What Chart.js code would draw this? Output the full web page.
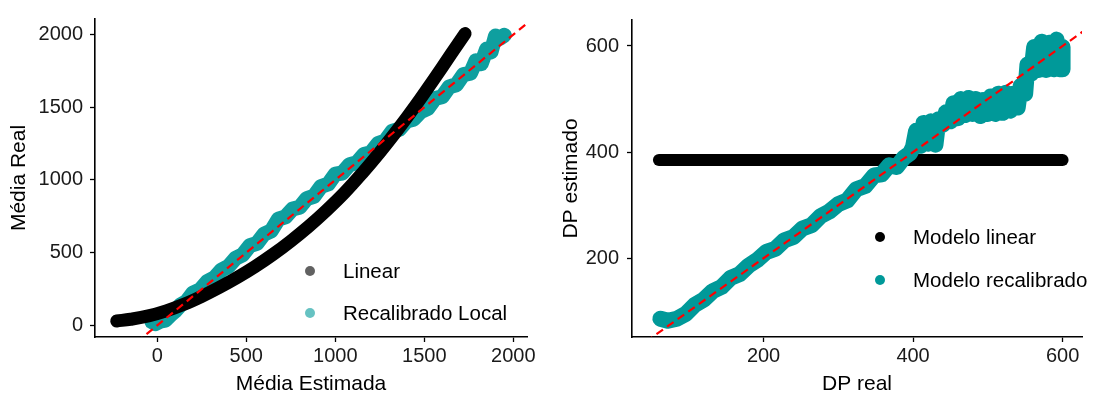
<!DOCTYPE html>
<html>
<head>
<meta charset="utf-8">
<script src="https://cdn.jsdelivr.net/npm/chart.js@4.4.1/dist/chart.umd.min.js"></script>
<style>
  body { margin: 0; background: #fff; overflow: hidden; }
  #wrap { position: relative; width: 1103px; height: 399px; font-family: "Liberation Sans", Arial, sans-serif; }
  #wrap canvas { position: absolute; top: 0; }
  #left { left: 0; }
  #right { left: 551px; }
  .dot { position: absolute; width: 10px; height: 10px; border-radius: 50%; }
  .lbl { position: absolute; font-size: 20.5px; line-height: 24px; color: #000; white-space: nowrap; }
</style>
</head>
<body>
<div id="wrap">
  <canvas id="left" width="551" height="399"></canvas>
  <canvas id="right" width="552" height="399"></canvas>
</div>
<script>
"use strict";

// Left panel: média real vs média estimada
const linearX = [-228, -150, -50, 50, 150, 250, 350, 450, 550, 650, 750, 850, 950, 1050, 1150, 1250, 1350, 1450, 1550, 1650, 1729];
const linearY = [30, 42, 65, 100, 145, 200, 262, 330, 405, 488, 580, 680, 790, 910, 1045, 1190, 1345, 1510, 1685, 1865, 2007];

const recalX = [-30, -10, 15, 45, 75, 100, 130, 165, 200, 240, 280, 320, 360, 400, 440, 480, 520, 560, 600, 640,
  680, 720, 760, 800, 840, 880, 920, 960, 1000, 1040, 1080, 1120, 1160, 1200, 1240, 1280, 1320, 1360, 1400, 1440,
  1480, 1520, 1560, 1600, 1640, 1680, 1720, 1760, 1790, 1820, 1850, 1875, 1900, 1925, 1950];
const recalY = [25, 12, 28, 36, 72, 98, 140, 165, 222, 244, 300, 326, 380, 406, 462, 486, 548, 564, 628, 650,
  730, 746, 800, 812, 872, 888, 955, 972, 1040, 1048, 1105, 1118, 1175, 1188, 1250, 1268, 1335, 1348, 1405, 1418,
  1470, 1492, 1560, 1572, 1640, 1655, 1725, 1735, 1820, 1800, 1900, 1880, 1990, 1975, 1995];

const mediaTicks = [0, 500, 1000, 1500, 2000];

// Right panel: DP estimado vs DP real
const dpLinearX = [60, 150, 250, 350, 450, 550, 600];
const dpLinearY = [385, 385, 385, 385, 385, 385, 385];

const dpRecalX = [62, 72, 84, 96, 108, 120, 132, 144, 156, 168, 180, 192, 204, 216, 228, 240, 252, 264, 276, 288,
  300, 312, 324, 336, 348, 358, 368, 378, 388, 396,
  400, 404, 410, 414, 420, 424, 430, 434, 440, 444, 450, 454, 460, 464, 470, 474, 480, 484, 490, 494,
  500, 504, 510, 514, 520, 524, 530, 534, 540, 544, 550, 553, 558, 562, 568, 572, 578, 582, 588, 592,
  596, 600, 600];
const dpRecalY = [86, 82, 86, 95, 112, 122, 138, 146, 163, 170, 186, 197, 212, 218, 234, 240, 256, 262, 279, 288,
  302, 309, 330, 336, 356, 358, 375, 372, 390, 398,
  410, 440, 412, 455, 416, 458, 414, 462, 452, 475, 458, 492, 464, 500, 470, 502, 472, 500, 468, 498,
  472, 505, 472, 510, 474, 512, 478, 510, 484, 525, 510, 565, 548, 598, 555, 608, 555, 606, 556, 612,
  556, 598, 556];

const dpTicks = [200, 400, 600];

// identity reference line (y = x)
const refLeft = [-400, 2300];
const refRight = [0, 700];

const TEAL = "rgb(0, 153, 153)";
const RED = "rgb(255, 0, 0)";

Chart.defaults.font.family = '"Liberation Sans", Arial, sans-serif';
Chart.defaults.color = "#000";

const toPoints = (xs, ys) => xs.map((x, i) => ({ x: x, y: ys[i] }));

function axis(min, max, ticks, title, size, titlePad, tickPad) {
  return {
    type: "linear",
    min: min,
    max: max,
    afterBuildTicks: (s) => { s.ticks = ticks.map(v => ({ value: v })); },
    afterFit: (s) => {
      if (s.isHorizontal()) { s.height = size; } else { s.width = size; }
    },
    grid: { display: true, drawOnChartArea: false, drawTicks: true, tickLength: 5, tickColor: "#000", tickWidth: 1.3 },
    border: { display: true, color: "#000", width: 1.6 },
    ticks: { color: "#1a1a1a", font: { size: 20 }, padding: tickPad, callback: (v) => String(v) },
    title: { display: true, text: title, color: "#000", font: { size: 21 }, padding: titlePad }
  };
}

function refLine(values) {
  return {
    label: "ref",
    data: toPoints(values, values),
    showLine: true,
    borderColor: RED,
    borderWidth: 2.2,
    borderDash: [8, 5],
    pointRadius: 0,
    order: 0
  };
}

function band(label, xs, ys, color, width, order, smooth) {
  return {
    label: label,
    data: toPoints(xs, ys),
    showLine: true,
    borderColor: color,
    backgroundColor: color,
    borderWidth: width,
    borderCapStyle: "round",
    borderJoinStyle: "round",
    pointRadius: 0,
    tension: smooth ? 0.4 : 0,
    order: order
  };
}

const baseOptions = {
  responsive: false,
  animation: false,
  devicePixelRatio: 1,
  plugins: { legend: { display: false }, tooltip: { enabled: false } }
};

// Left chart
new Chart(document.getElementById("left"), {
  type: "scatter",
  data: {
    datasets: [
      refLine(refLeft),
      band("Linear", linearX, linearY, "#000", 13, 1, true),
      band("Recalibrado Local", recalX, recalY, "rgba(0, 153, 153, 0.94)", 15, 2, false)
    ]
  },
  options: {
    ...baseOptions,
    layout: { padding: { top: 10, right: 24, left: 0, bottom: 0 } },
    scales: {
      x: axis(-350, 2077, mediaTicks, "Média Estimada", 62, { top: 0, bottom: 2 }, 2),
      y: axis(-80, 2107, mediaTicks, "Média Real", 95, { top: 7, bottom: 0 }, 7)
    }
  }
});

// Right chart
new Chart(document.getElementById("right"), {
  type: "scatter",
  data: {
    datasets: [
      refLine(refRight),
      band("Modelo linear", dpLinearX, dpLinearY, "#000", 12, 2, true),
      band("Modelo recalibrado", dpRecalX, dpRecalY, TEAL, 16, 1, false)
    ]
  },
  options: {
    ...baseOptions,
    layout: { padding: { top: 10, right: 21, left: 0, bottom: 0 } },
    scales: {
      x: axis(24, 626, dpTicks, "DP real", 62, { top: 0, bottom: 2 }, 2),
      y: axis(51.5, 649, dpTicks, "DP estimado", 81, { top: 8, bottom: 0 }, 8)
    }
  }
});

// Legends placed inside the panels, like ggplot's legend.position
const legends = [
  { x: 310, y: 271, text: "Linear", color: "rgba(0, 0, 0, 0.62)" },
  { x: 310, y: 313, text: "Recalibrado Local", color: "rgba(0, 153, 153, 0.6)" },
  { x: 880, y: 237, text: "Modelo linear", color: "#000" },
  { x: 880, y: 280, text: "Modelo recalibrado", color: TEAL }
];

const wrap = document.getElementById("wrap");
legends.forEach(item => {
  wrap.insertAdjacentHTML("beforeend",
    `<div class="dot" style="left:${item.x - 5}px;top:${item.y - 5}px;background:${item.color}"></div>` +
    `<div class="lbl" style="left:${item.x + 33}px;top:${item.y - 12}px">${item.text}</div>`);
});
</script>
</body>
</html>
